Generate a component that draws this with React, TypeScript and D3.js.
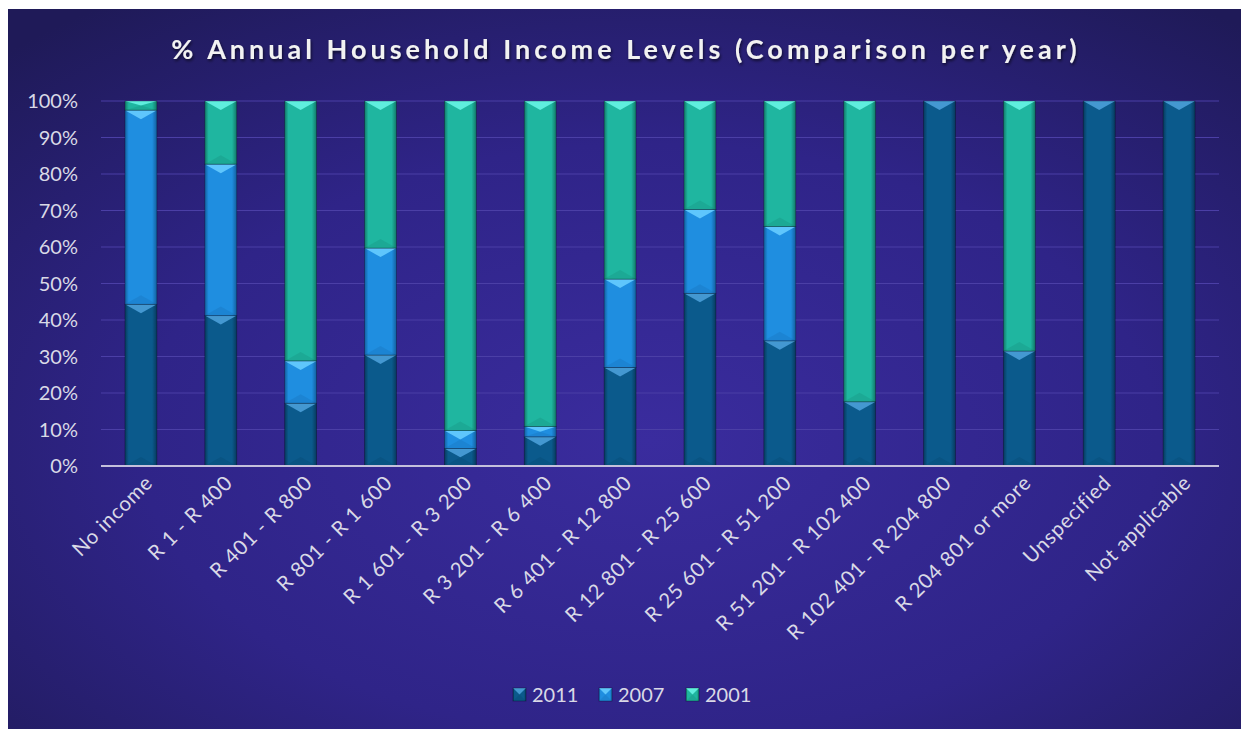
import React from "react";
import * as d3 from "d3";

const categories = [
  "No income",
  "R 1 - R 400",
  "R 401 - R 800",
  "R 801 - R 1 600",
  "R 1 601 - R 3 200",
  "R 3 201 - R 6 400",
  "R 6 401 - R 12 800",
  "R 12 801 - R 25 600",
  "R 25 601 - R 51 200",
  "R 51 201 - R 102 400",
  "R 102 401 - R 204 800",
  "R 204 801 or more",
  "Unspecified",
  "Not applicable",
];

const v2011 = [44.3, 41.2, 17.2, 30.4, 4.8, 8.0, 27.0, 47.3, 34.3, 17.6, 100, 31.5, 100, 100];
const v2007 = [53.2, 41.5, 11.6, 29.3, 4.9, 2.8, 24.2, 23.0, 31.3, 0, 0, 0, 0, 0];
const v2001 = [2.5, 17.3, 71.2, 40.3, 90.3, 89.2, 48.8, 29.7, 34.4, 82.4, 0, 68.5, 0, 0];

const seriesNames = ["2011", "2007", "2001"];
const yTicks = [0, 10, 20, 30, 40, 50, 60, 70, 80, 90, 100];

const W = 1241;
const H = 730;
const margin = { left: 101, right: 22, top: 101, bottom: 264 };

const colors: Record<string, { base: string; light: string; dark: string }> = {
  "2011": { base: "#0b5a8c", light: "#4a9fd8", dark: "#073a5e" },
  "2007": { base: "#1f8ee0", light: "#66ccff", dark: "#135f9e" },
  "2001": { base: "#1fb6a0", light: "#66f4e4", dark: "#127868" },
};

const font = "Lato, 'Open Sans', sans-serif";

export default function App() {
  const rows = categories.map((c, i) => ({
    cat: c,
    "2011": v2011[i],
    "2007": v2007[i],
    "2001": v2001[i],
  }));

  const stacked = d3
    .stack<any>()
    .keys(seriesNames)
    .offset(d3.stackOffsetExpand)(rows);

  const x = d3
    .scaleBand<string>()
    .domain(categories)
    .range([margin.left, W - margin.right])
    .paddingInner(0.6)
    .paddingOuter(0.3);

  const y = d3
    .scaleLinear()
    .domain([0, 1])
    .range([H - margin.bottom, margin.top]);

  const bw = x.bandwidth();

  const segment = (key: string, x0: number, yTop: number, yBot: number, w: number, k: string) => {
    const h = yBot - yTop;
    if (h <= 0.2) return null;
    const c = colors[key];
    const b = Math.min(9, h / 2);
    return (
      <g key={k}>
        <rect x={x0} y={yTop} width={w} height={h} fill={`url(#g${key})`} />
        <polygon
          points={`${x0},${yTop} ${x0 + w},${yTop} ${x0 + w / 2},${yTop + b}`}
          fill={c.light}
          opacity={0.9}
        />
        <polygon
          points={`${x0},${yBot} ${x0 + w},${yBot} ${x0 + w / 2},${yBot - b}`}
          fill={c.dark}
          opacity={0.2}
        />
        <rect
          x={x0}
          y={yTop}
          width={w}
          height={h}
          fill="none"
          stroke="rgba(0,0,0,0.35)"
          strokeWidth={0.8}
        />
      </g>
    );
  };

  const legendX = [513, 599, 686];

  return (
    <svg
      width={W}
      height={H}
      style={{ position: "fixed", left: 0, top: 0, display: "block" }}
      fontFamily={font}
    >
      <defs>
        <radialGradient id="bg" cx="0.52" cy="0.6" r="0.75">
          <stop offset="0" stopColor="#3a2c9e" />
          <stop offset="0.55" stopColor="#2f2488" />
          <stop offset="1" stopColor="#1f1a58" />
        </radialGradient>
        {seriesNames.map((s) => (
          <linearGradient key={s} id={`g${s}`} x1="0" x2="1" y1="0" y2="0">
            <stop offset="0" stopColor={colors[s].dark} />
            <stop offset="0.12" stopColor={colors[s].base} />
            <stop offset="0.85" stopColor={colors[s].base} />
            <stop offset="1" stopColor={colors[s].dark} />
          </linearGradient>
        ))}
        <filter id="ts" x="-5%" y="-30%" width="110%" height="160%">
          <feDropShadow dx="1" dy="2" stdDeviation="1.5" floodColor="#000" floodOpacity="0.6" />
        </filter>
      </defs>
      <rect x={0} y={0} width={W} height={H} fill="#fff" />
      <rect x={8} y={9} width={W - 8} height={720} fill="url(#bg)" />

      <text
        x={626}
        y={59}
        textAnchor="middle"
        fill="#f2f2f2"
        fontSize={27}
        fontWeight="bold"
        letterSpacing={4}
        filter="url(#ts)"
      >
        % Annual Household Income Levels (Comparison per year)
      </text>

      {yTicks.map((t) => (
        <g key={t}>
          {t > 0 && (
            <line
              x1={margin.left}
              x2={W - margin.right}
              y1={y(t / 100)}
              y2={y(t / 100)}
              stroke="#4b3fa6"
              strokeWidth={1.2}
            />
          )}
          <text
            x={78}
            y={y(t / 100)}
            dy="0.35em"
            textAnchor="end"
            fill="#d9d9e6"
            fontSize={20}
          >
            {t}%
          </text>
        </g>
      ))}

      {stacked.map((layer) =>
        layer.map((d, i) =>
          segment(
            layer.key,
            x(categories[i])!,
            y(d[1]),
            y(d[0]),
            bw,
            `${layer.key}-${i}`
          )
        )
      )}

      <line
        x1={margin.left}
        x2={W - margin.right}
        y1={y(0)}
        y2={y(0)}
        stroke="#c4c0dc"
        strokeWidth={2}
      />

      {categories.map((c) => {
        const cx = x(c)! + bw / 2;
        return (
          <text
            key={c}
            transform={`translate(${cx + 8},${y(0) + 13}) rotate(-45)`}
            textAnchor="end"
            dy="0.35em"
            fill="#d9d9e6"
            fontSize={20.5}
            letterSpacing={0.7}
          >
            {c}
          </text>
        );
      })}

      {seriesNames.map((s, i) => (
        <g key={s}>
          {segment(s, legendX[i], 688, 701, 13, `leg-${s}`)}
          <text x={legendX[i] + 19} y={695} dy="0.35em" fill="#d9d9e6" fontSize={20}>
            {s}
          </text>
        </g>
      ))}
    </svg>
  );
}
